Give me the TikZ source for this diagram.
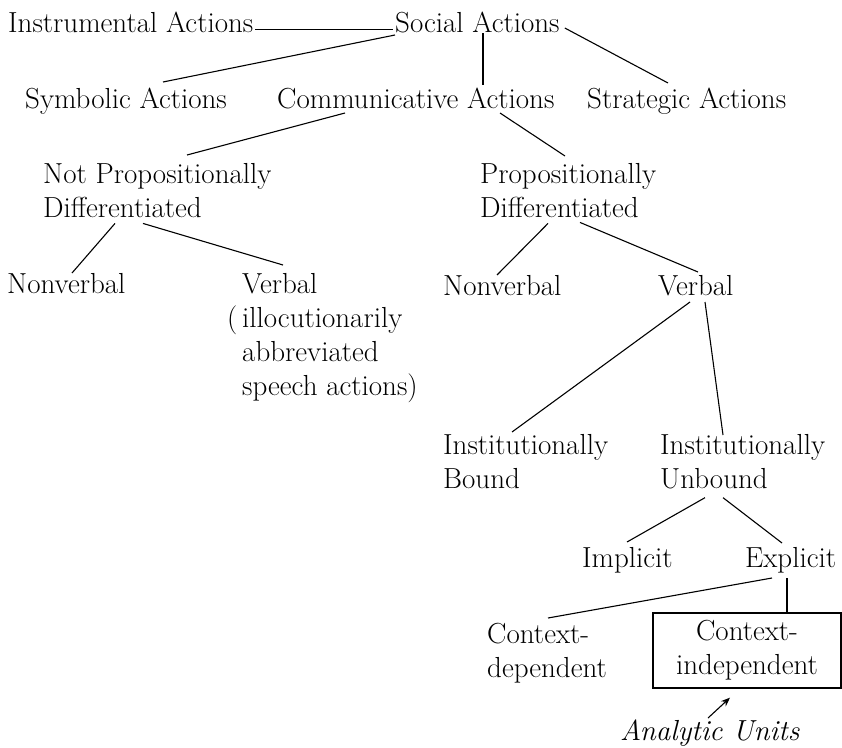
\documentclass[tikz,border=0pt]{standalone}
\usepackage{tikz}
\usetikzlibrary{arrows.meta}

\tikzset{
  lbl/.style={inner sep=0pt, anchor=base west, align=left},
  conn/.style={line width=1.1pt},
}

\begin{document}
\begin{tikzpicture}[x=1pt, y=-1pt, font=\fontsize{29}{34}\selectfont]
			\useasboundingbox (0,0) rectangle (842,747);

			% top row
			\node[lbl] (instr) at (8,32) {Instrumental Actions};
			\node[lbl] (social) at (395,32) {Social Actions};

			% kinds of social actions
			\node[lbl] (symb) at (25,108) {Symbolic Actions};
			\node[lbl] (comm) at (277,108) {Communicative Actions};
			\node[lbl] (strat) at (587,108) {Strategic Actions};

			% propositional split (base = last line)
			\node[lbl] (notprop) at (43,217) {Not Propositionally\\Differentiated};
			\node[lbl] (prop) at (480,217) {Propositionally\\Differentiated};

			% nonverbal / verbal
			\node[lbl] (nvA) at (7,293) {Nonverbal};
			\node[lbl] (vbA) at (242,395) {Verbal\\\llap{(\,}illocutionarily\\abbreviated\\speech actions)};
			\node[lbl] (nvB) at (443,295) {Nonverbal};
			\node[lbl] (vbB) at (658,295) {Verbal};

			% institutional
			\node[lbl] (ibound) at (443,488) {Institutionally\\Bound};
			\node[lbl] (iunbound) at (660,488) {Institutionally\\Unbound};
			\node[lbl] (impl) at (582,567) {Implicit};
			\node[lbl] (expl) at (745,567) {Explicit};

			% context
			\node[lbl] (cdep) at (487,677) {Context-\\dependent};
			\node[draw, line width=1.3pt, align=center, inner sep=0pt,
			      minimum width=188pt, minimum height=75pt] (cindep) at (747,650.5) {Context-\\independent};
			\node[lbl, font=\fontsize{29}{34}\selectfont\itshape] (units) at (620,740) {Analytic Units};

			% lines from social actions
			\draw[conn, shorten <=2pt, shorten >=2pt] (instr.mid east) -- (social.mid west);
			\draw[conn] ([yshift=-3pt]social.base west) -- ([xshift=138pt,yshift=26pt]symb.base west);
			\draw[conn] ([xshift=88pt,yshift=-1pt]social.base west) -- ([xshift=206pt,yshift=23pt]comm.base west);
			\draw[conn] ([xshift=5pt,yshift=4pt]social.base east) -- ([xshift=81pt,yshift=25pt]strat.base west);

			% lines from communicative actions
			\draw[conn] ([xshift=68pt,yshift=-5pt]comm.base west) -- ([xshift=144pt,yshift=62pt]notprop.base west);
			\draw[conn] ([xshift=223pt,yshift=-5pt]comm.base west) -- ([xshift=85pt,yshift=61pt]prop.base west);

			\draw[conn] ([xshift=72pt,yshift=-6pt]notprop.south west) -- ([xshift=65pt,yshift=20pt]nvA.base west);
			\draw[conn] ([xshift=100pt,yshift=-6pt]notprop.south west) -- ([xshift=41pt,yshift=130pt]vbA.base west);
			\draw[conn] ([xshift=68pt,yshift=-6pt]prop.south west) -- ([xshift=54pt,yshift=20pt]nvB.base west);
			\draw[conn] ([xshift=100pt,yshift=-5pt]prop.south west) -- ([xshift=40pt,yshift=23pt]vbB.base west);

			% verbal
			\draw[conn] ([xshift=32pt,yshift=-7pt]vbB.base west) -- ([xshift=69pt,yshift=56pt]ibound.base west);
			\draw[conn] ([xshift=47pt,yshift=-7pt]vbB.base west) -- ([xshift=63pt,yshift=53pt]iunbound.base west);

			\draw[conn] ([xshift=45pt,yshift=-9pt]iunbound.south west) -- ([xshift=45pt,yshift=25pt]impl.base west);
			\draw[conn] ([xshift=63pt,yshift=-9pt]iunbound.south west) -- ([xshift=37pt,yshift=24pt]expl.base west);

			\draw[conn] ([xshift=27pt,yshift=-11pt]expl.base west) -- ([xshift=61pt,yshift=59pt]cdep.base west);
			\draw[conn] ([xshift=42pt,yshift=-11pt]expl.base west) -- ([xshift=40pt]cindep.north);

			% analytic units
			\draw[conn, -{Stealth[length=9pt,width=7pt]}] ([xshift=88pt,yshift=22pt]units.base west) -- ([xshift=-17pt,yshift=-9pt]cindep.south);

\end{tikzpicture}
\end{document}
